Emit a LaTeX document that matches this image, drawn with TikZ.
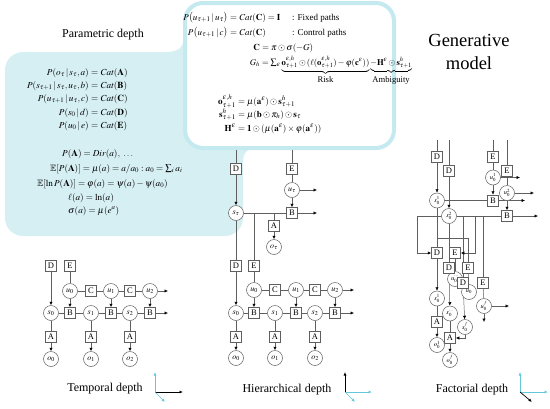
\documentclass[tikz,border=0pt]{standalone}
\usepackage{amsmath}
\usepackage{mathptmx}
\usepackage{amssymb}
\usepackage{fontspec}
\setmainfont{Liberation Serif}
\usetikzlibrary{arrows.meta}
\definecolor{cyfill}{RGB}{214,239,243}
\definecolor{cyline}{RGB}{196,233,239}
\definecolor{axcy}{RGB}{100,200,218}
\definecolor{edgec}{RGB}{95,95,95}
\pgfdeclarelayer{bg}
\pgfdeclarelayer{edges}
\pgfsetlayers{bg,edges,main}
\tikzset{
  bx/.style={draw=edgec, fill=white, line width=0.5pt, minimum size=11pt, inner sep=0pt, font=\fontsize{8.5}{9}\selectfont},
  cr/.style={circle, draw=edgec, fill=white, line width=0.5pt, minimum size=15pt, inner sep=0pt, font=\fontsize{8}{9}\selectfont},
  crs/.style={cr, font=\fontsize{6.5}{7}\selectfont},
  ln/.style={draw=edgec, line width=0.5pt},
  ar/.style={draw=edgec, line width=0.5pt, -{Latex[length=3.5pt,width=3.2pt,color=black]}},
  fm/.style={inner sep=0pt, font=\fontsize{9.2}{10}\selectfont},
  fmt/.style={inner sep=0pt, font=\fontsize{9}{10}\selectfont},
  fmg/.style={inner sep=0pt, font=\fontsize{8.6}{10}\selectfont},
  ttl/.style={inner sep=0pt, font=\fontsize{12}{14}\selectfont},
  big/.style={inner sep=0pt, font=\fontsize{18.5}{20}\selectfont},
  axb/.style={line width=0.7pt, -{Latex[length=3.5pt,width=3pt]}, black},
  axc/.style={line width=0.7pt, -{Latex[length=3.5pt,width=3pt]}, axcy},
}
\begin{document}
\begin{tikzpicture}[x=1pt,y=-1pt]
\useasboundingbox (0,0) rectangle (550,408);
\begin{pgfonlayer}{bg}
\fill[cyfill, rounded corners=18pt] (5,52) rectangle (243,236);
\fill[cyfill] (166,52) .. controls (180,52) and (184,46) .. (184,36) -- (184,52) -- cycle;
\fill[cyfill] (243,162) .. controls (243,152) and (248,148) .. (258,148) -- (243,148) -- cycle;
\draw[cyline, line width=4pt, fill=white, rounded corners=18pt] (185,3) rectangle (394,148);
\end{pgfonlayer}

% titles
\node[ttl] (ttlP) at (103,35) {Parametric depth};
\node[ttl] (ttlT) at (105,389) {Temporal depth};
\node[ttl] (ttlH) at (287,390) {Hierarchical depth};
\node[ttl] (ttlF) at (472,390) {Factorial depth};
\node[big] (gen1) at (469,40) {Generative};
\node[big] (gen2) at (469,63) {model};

% left formulas
\node[fm,anchor=base east] (pl1) at (89,75) {$P(o_\tau\,|\,s_\tau,a)$};
\node[fm,anchor=base west] (pr1) at (89,75) {${}=\mathit{Cat}(\mathbf{A})$};
\node[fm,anchor=base east] (pl2) at (89,88) {$P(s_{\tau+1}\,|\,s_\tau,u_\tau,b)$};
\node[fm,anchor=base west] (pr2) at (89,88) {${}=\mathit{Cat}(\mathbf{B})$};
\node[fm,anchor=base east] (pl3) at (89,101) {$P(u_{\tau+1}\,|\,u_\tau,c)$};
\node[fm,anchor=base west] (pr3) at (89,101) {${}=\mathit{Cat}(\mathbf{C})$};
\node[fm,anchor=base east] (pl4) at (89,115) {$P(s_0\,|\,d)$};
\node[fm,anchor=base west] (pr4) at (89,115) {${}=\mathit{Cat}(\mathbf{D})$};
\node[fm,anchor=base east] (pl5) at (89,128) {$P(u_0\,|\,e)$};
\node[fm,anchor=base west] (pr5) at (89,128) {${}=\mathit{Cat}(\mathbf{E})$};
\node[fm,anchor=base west] (q1) at (62,156) {$P(\mathbf{A})=\mathit{Dir}(a),\ \ldots$};
\node[fm,anchor=base west] (q2) at (50,171) {$\mathbb{E}[P(\mathbf{A})]=\mu(a)=a/a_0:a_0=\sum\nolimits_i a_i$};
\node[fm,anchor=base west] (q3) at (37,186) {$\mathbb{E}[\ln P(\mathbf{A})]=\varphi(a)=\psi(a)-\psi(a_0)$};
\node[fm,anchor=base west] (q4) at (68,200) {$\ell(a)=\ln(a)$};
\node[fm,anchor=base west] (q5) at (68,213) {$\sigma(a)=\mu(e^a)$};

% top formulas
\node[fmt,anchor=base east] (t1l) at (228,20) {$P\bigl(u_{\tau+1}\,|\,u_\tau\bigr)$};
\node[fmt,anchor=base west] (t1r) at (228,20) {${}=\mathit{Cat}(\mathbf{C})=\mathbf{I}$};
\node[fmt,anchor=base west] (t1c) at (292,20) {: Fixed paths};
\node[fmt,anchor=base east] (t2l) at (228,35) {$P\bigl(u_{\tau+1}\,|\,c\bigr)$};
\node[fmt,anchor=base west] (t2r) at (228,35) {${}=\mathit{Cat}(\mathbf{C})$};
\node[fmt,anchor=base west] (t2c) at (292,35) {: Control paths};
\node[fmt,anchor=base east] (t3l) at (260,50) {$\mathbf{C}$};
\node[fmt,anchor=base west] (t3r) at (260,50) {${}=\pi\odot\sigma(-G)$};
\node[fmg,anchor=base east] (t4l) at (260,65) {$G_h$};
\node[fmg,anchor=base west] (t4r) at (260,65) {${}=\sum\nolimits_\varepsilon \underbrace{\mathbf{o}^{\varepsilon,h}_{\tau+1}\odot(\ell(\mathbf{o}^{\varepsilon,h}_{\tau+1})-\varphi(\mathbf{c}^\varepsilon))}_{\mbox{Risk}}\underbrace{-\mathbf{H}^\varepsilon\odot\mathbf{s}^h_{\tau+1}}_{\mbox{Ambiguity}}$};
\node[fmt,anchor=base east] (t5l) at (236,104) {$\mathbf{o}^{\varepsilon,h}_{\tau+1}$};
\node[fmt,anchor=base west] (t5r) at (236,104) {${}=\mu(\mathbf{a}^\varepsilon)\odot\mathbf{s}^h_{\tau+1}$};
\node[fmt,anchor=base east] (t6l) at (236,117) {$\mathbf{s}^h_{\tau+1}$};
\node[fmt,anchor=base west] (t6r) at (236,117) {${}=\mu(\mathbf{b}\odot\pi_h)\odot\mathbf{s}_\tau$};
\node[fmt,anchor=base east] (t7l) at (236,131) {$\mathbf{H}^\varepsilon$};
\node[fmt,anchor=base west] (t7r) at (236,131) {${}=\mathbf{1}\odot(\mu(\mathbf{a}^\varepsilon)\times\varphi(\mathbf{a}^\varepsilon))$};

% ---------- temporal ----------
\node[bx] (tD) at (51,266) {D};
\node[bx] (tE) at (70,266) {E};
\node[cr] (tu0) at (70,291) {$u_0$};
\node[bx] (tC1) at (91,291) {C};
\node[cr] (tu1) at (111,291) {$u_1$};
\node[bx] (tC2) at (130,291) {C};
\node[cr] (tu2) at (150,291) {$u_2$};
\coordinate (tuE) at (168,291);
\node[cr] (ts0) at (51,313) {$s_0$};
\node[bx] (tB1) at (70,313) {B};
\node[cr] (ts1) at (91,313) {$s_1$};
\node[bx] (tB2) at (111,313) {B};
\node[cr] (ts2) at (130,313) {$s_2$};
\node[bx] (tB3) at (150,313) {B};
\coordinate (tsE) at (168,313);
\node[bx] (tA0) at (51,337) {A};
\node[bx] (tA1) at (91,337) {A};
\node[bx] (tA2) at (130,337) {A};
\node[cr] (to0) at (51,359) {$o_0$};
\node[cr] (to1) at (91,359) {$o_1$};
\node[cr] (to2) at (130,359) {$o_2$};

% ---------- hierarchical ----------
\coordinate (hDt) at (236,150);
\coordinate (hEt) at (292,150);
\node[bx] (hD) at (236,169) {D};
\node[bx] (hE) at (292,169) {E};
\node[cr] (hu) at (292,190) {$u_\tau$};
\coordinate (huE) at (317,190);
\node[cr] (hs) at (236,213) {$s_\tau$};
\node[bx] (hB) at (292,213) {B};
\coordinate (hBE) at (317,213);
\node[bx] (hA) at (274,226) {A};
\node[cr] (ho) at (274,247) {$o_\tau$};
\coordinate (hJA) at (274,213);
\coordinate (hJE) at (254,213);
\node[bx] (hD2) at (236,266) {D};
\node[bx] (hE2) at (254,266) {E};
\node[cr] (hu0) at (254,290) {$u_0$};
\node[bx] (hC1) at (275,290) {C};
\node[cr] (hu1) at (296,290) {$u_1$};
\node[bx] (hC2) at (315,290) {C};
\node[cr] (hu2) at (335,290) {$u_2$};
\coordinate (huE2) at (354,290);
\node[cr] (hs0) at (236,313) {$s_0$};
\node[bx] (hB1) at (254,313) {B};
\node[cr] (hs1) at (275,313) {$s_1$};
\node[bx] (hB2) at (296,313) {B};
\node[cr] (hs2) at (315,313) {$s_2$};
\node[bx] (hB3) at (335,313) {B};
\coordinate (hsE2) at (354,313);
\node[bx] (hA0) at (236,337) {A};
\node[bx] (hA1) at (275,337) {A};
\node[bx] (hA2) at (315,337) {A};
\node[cr] (ho0) at (236,358) {$o_0$};
\node[cr] (ho1) at (275,358) {$o_1$};
\node[cr] (ho2) at (315,358) {$o_2$};

% ---------- factorial ----------
\coordinate (fD1t) at (437,140);
\coordinate (fD2t) at (449,140);
\coordinate (fE1t) at (493,140);
\coordinate (fE2t) at (507,140);
\node[bx] (fD1) at (437,157) {D};
\node[bx] (fE1) at (493,157) {E};
\node[bx] (fD2) at (449,171) {D};
\node[bx] (fE2) at (507,171) {E};
\node[crs] (fu1) at (493,177.5) {$u_0^1$};
\node[crs] (fu2) at (507,193) {$u_0^2$};
\node[crs] (fs1) at (437,200.5) {$s_0^1$};
\node[bx] (fB1) at (493,200.5) {B};
\node[crs] (fs2) at (449,216) {$s_0^2$};
\node[bx] (fB2) at (507,216) {B};
\coordinate (fu1E) at (520,177.5);
\coordinate (fu2E) at (534,193);
\coordinate (fB1E) at (525,200.5);
\coordinate (fB2E) at (538,216);
\coordinate (fL1) at (417,216);
\coordinate (fL2) at (417,253);
\coordinate (fJ1) at (437,238);
\coordinate (fJ2) at (468,238);
\coordinate (fK1) at (463,216);
\coordinate (fK2) at (475,216);
\coordinate (fK3) at (475,253);
\coordinate (fK4) at (483,216);
\node[crs] (gu1) at (455,279) {$u_0^{\cdots}$};
\node[crs] (gu2) at (469,292) {$u_0$};
\node[bx] (gD1) at (437,253) {D};
\node[bx] (gE1) at (455,253) {E};
\node[bx] (gD2) at (449,268) {D};
\node[bx] (gE2) at (468,268) {E};
\node[bx] (gD3) at (463,283) {D};
\node[bx] (gE3) at (483,283) {E};
\node[crs] (guf) at (484,306) {$u_0^f$};
\node[crs] (gs1) at (437,298.5) {$s_0^1$};
\node[crs] (gs2) at (450,313.5) {$s_0^{\cdots}$};
\node[crs] (gsf) at (465,327) {$s_0^f$};
\node[bx] (gA1) at (437,322) {A};
\node[bx] (gA2) at (450,338) {A};
\node[crs] (go1) at (437,345) {$o_0^1$};
\node[crs] (gof) at (450,360) {$o_0^f$};
\coordinate (gsfB) at (465,338);
\coordinate (gufE) at (509,306);
\coordinate (gufS) at (484,322);

% axes coordinates
\coordinate (a1o) at (155,392); \coordinate (a1u) at (155,372);
\coordinate (a1r) at (183,392); \coordinate (a1d) at (165,402);
\coordinate (a2o) at (345,392); \coordinate (a2u) at (345,372);
\coordinate (a2r) at (372,392); \coordinate (a2d) at (355,402);
\coordinate (a3o) at (520,392); \coordinate (a3u) at (520,372);
\coordinate (a3r) at (548,392); \coordinate (a3d) at (532,402);

\begin{pgfonlayer}{edges}
% temporal
\draw[ar] (tD) -- (ts0);
\draw[ln] (tE) -- (tu0);
\draw[ln] (tu0) -- (tC1) -- (tu1) -- (tC2) -- (tu2);
\draw[ar] (tu2) -- (tuE);
\draw[ar] (tu0) -- (tB1);
\draw[ar] (tu1) -- (tB2);
\draw[ar] (tu2) -- (tB3);
\draw[ln] (ts0) -- (tB1) -- (ts1) -- (tB2) -- (ts2) -- (tB3);
\draw[ar] (tB3) -- (tsE);
\draw[ln] (ts0) -- (tA0); \draw[ar] (tA0) -- (to0);
\draw[ln] (ts1) -- (tA1); \draw[ar] (tA1) -- (to1);
\draw[ln] (ts2) -- (tA2); \draw[ar] (tA2) -- (to2);
% hierarchical
\draw[ln] (hDt) -- (hD);
\draw[ln] (hEt) -- (hE);
\draw[ar] (hD) -- (hs);
\draw[ln] (hE) -- (hu);
\draw[ar] (hu) -- (hB);
\draw[ar] (hu) -- (huE);
\draw[ln] (hs) -- (hB);
\draw[ar] (hB) -- (hBE);
\draw[ln] (hJA) -- (hA);
\draw[ar] (hA) -- (ho);
\draw[ln] (hJE) -- (hE2);
\draw[ln] (hs) -- (hD2);
\draw[ar] (hD2) -- (hs0);
\draw[ln] (hE2) -- (hu0);
\draw[ln] (hu0) -- (hC1) -- (hu1) -- (hC2) -- (hu2);
\draw[ar] (hu2) -- (huE2);
\draw[ar] (hu0) -- (hB1);
\draw[ar] (hu1) -- (hB2);
\draw[ar] (hu2) -- (hB3);
\draw[ln] (hs0) -- (hB1) -- (hs1) -- (hB2) -- (hs2) -- (hB3);
\draw[ar] (hB3) -- (hsE2);
\draw[ln] (hs0) -- (hA0); \draw[ar] (hA0) -- (ho0);
\draw[ln] (hs1) -- (hA1); \draw[ar] (hA1) -- (ho1);
\draw[ln] (hs2) -- (hA2); \draw[ar] (hA2) -- (ho2);
% factorial
\draw[ln] (fD1t) -- (fD1);
\draw[ln] (fD2t) -- (fD2);
\draw[ln] (fE1t) -- (fE1);
\draw[ln] (fE2t) -- (fE2);
\draw[ar] (fD1) -- (fs1);
\draw[ar] (fD2) -- (fs2);
\draw[ln] (fE1) -- (fu1);
\draw[ln] (fE2) -- (fu2);
\draw[ar] (fu1) -- (fB1);
\draw[ar] (fu2) -- (fB2);
\draw[ar] (fu1) -- (fu1E);
\draw[ar] (fu2) -- (fu2E);
\draw[ar] (fB1) -- (fB1E);
\draw[ar] (fB2) -- (fB2E);
\draw[ln] (fs1) -- (fB1);
\draw[ln] (fs2) -- (fB2);
\draw[ar] (fs2) -- (fL1) -- (fL2) -- (gD1);
\draw[ln] (fs1) -- (gD1);
\draw[ln] (fJ1) -- (fJ2) -- (gE2);
\draw[ln] (fs2) -- (gD2);
\draw[ln] (fK1) -- (gD3);
\draw[ar] (fK2) -- (fK3) -- (gE1);
\draw[ln] (fK4) -- (gE3);
\draw[ln] (gE1) -- (gu1);
\draw[ln] (gE2) -- (gu2);
\draw[ln] (gE3) -- (guf);
\draw[ar] (gD1) -- (gs1);
\draw[ar] (gD2) -- (gs2);
\draw[ar] (gD3) -- (gsf);
\draw[ln] (gs1) -- (gA1); \draw[ar] (gA1) -- (go1);
\draw[ln] (gs2) -- (gA2); \draw[ar] (gA2) -- (gof);
\draw[ar] (gsf) -- (gsfB) -- (gA2);
\draw[ar] (guf) -- (gufE);
\draw[ar] (guf) -- (gufS);
\end{pgfonlayer}

% axes
\draw[axc] (a1o) -- (a1u);
\draw[axb] (a1o) -- (a1r);
\draw[axc] (a1o) -- (a1d);
\draw[axb] (a2o) -- (a2u);
\draw[axc] (a2o) -- (a2r);
\draw[axc] (a2o) -- (a2d);
\draw[axc] (a3o) -- (a3u);
\draw[axc] (a3o) -- (a3r);
\draw[axb] (a3o) -- (a3d);
\end{tikzpicture}
\end{document}
